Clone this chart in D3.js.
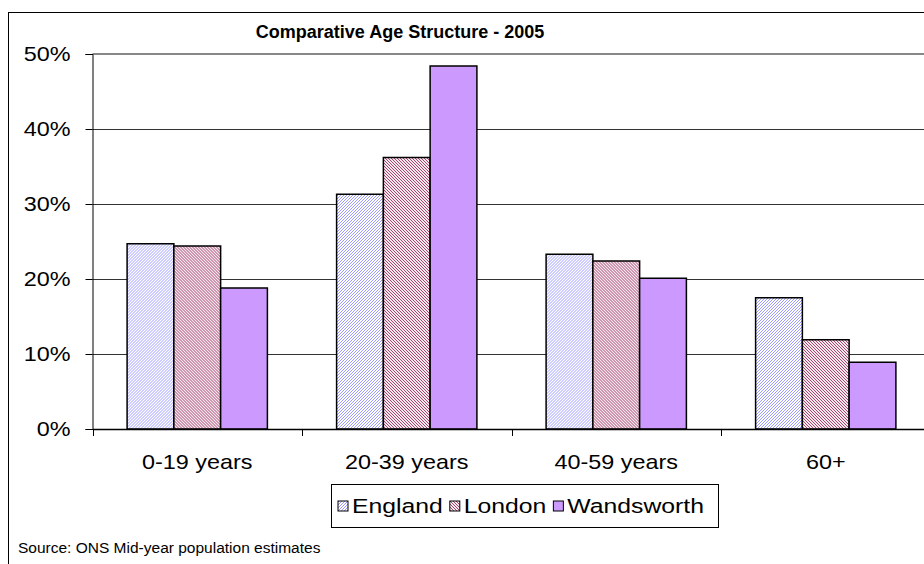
<!DOCTYPE html>
<html>
<head>
<meta charset="utf-8">
<script src="https://cdn.jsdelivr.net/npm/d3@7"></script>
<style>
body { margin: 0; background: #fff; }
svg { display: block; font-family: "Liberation Sans", Arial, sans-serif; }
</style>
</head>
<body>
<div id="chart"></div>
<script>
var categories = ["0-19 years", "20-39 years", "40-59 years", "60+"];
var series = ["England", "London", "Wandsworth"];
var england = [24.7, 31.3, 23.3, 17.5];
var london = [24.4, 36.2, 22.4, 11.9];
var wandsworth = [18.8, 48.4, 20.1, 8.9];
var yTicks = [0, 10, 20, 30, 40, 50];

var w = 924, h = 564;
var sx = 1.17; // the labels in the original look a bit stretched sideways
var svg = d3.select("#chart").append("svg")
    .attr("width", w)
    .attr("height", h);

var defs = svg.append("defs");
function hatch(id, bg, fg, dir) {
  var p = defs.append("pattern")
      .attr("id", id)
      .attr("patternUnits", "userSpaceOnUse")
      .attr("width", 3)
      .attr("height", 3);
  p.append("rect").attr("width", 3).attr("height", 3).attr("fill", bg);
  p.append("path")
      .attr("d", dir > 0 ? "M-1,1 l2,-2 M0,3 l3,-3 M2,4 l2,-2" : "M-1,2 l2,2 M0,0 l3,3 M2,-1 l2,2")
      .attr("stroke", fg)
      .attr("stroke-width", 1);
}
hatch("pEng", "#ffffff", "#9a9aff", 1);
hatch("pLon", "#f6e6ee", "#a3486f", -1);
var fills = ["url(#pEng)", "url(#pLon)", "#cc99ff"];

// outer frame (runs off the right and bottom of the picture)
svg.append("rect")
    .attr("x", 8.5).attr("y", 12.5)
    .attr("width", 940).attr("height", 580)
    .attr("fill", "#fff")
    .attr("stroke", "#000");

var margin = {left: 92.5, top: 54, bottom: 429};
var x0 = d3.scaleBand()
    .domain(categories)
    .range([margin.left, margin.left + 4 * 209.5]);
var x1 = d3.scaleBand()
    .domain(series)
    .range([0, x0.bandwidth()])
    .paddingOuter(0.74)
    .paddingInner(0);
var y = d3.scaleLinear()
    .domain([0, 50])
    .range([margin.bottom, margin.top]);

// gridlines
svg.append("g").selectAll("line")
    .data(yTicks.slice(1, 5))
    .enter().append("line")
    .attr("x1", margin.left).attr("x2", w)
    .attr("y1", function(d) { return Math.round(y(d)) + 0.5; })
    .attr("y2", function(d) { return Math.round(y(d)) + 0.5; })
    .attr("stroke", "#333")
    .attr("stroke-width", 1);
svg.append("line")
    .attr("x1", margin.left).attr("x2", w)
    .attr("y1", margin.top).attr("y2", margin.top)
    .attr("stroke", "#888")
    .attr("stroke-width", 2);

// bars
var data = categories.map(function(c, i) {
  return {cat: c, vals: [england[i], london[i], wandsworth[i]]};
});
var groups = svg.append("g").selectAll("g")
    .data(data)
    .enter().append("g")
    .attr("transform", function(d) { return "translate(" + x0(d.cat) + ",0)"; });
groups.selectAll("rect")
    .data(function(d) { return d.vals; })
    .enter().append("rect")
    .attr("x", function(d, i) { return x1(series[i]); })
    .attr("y", function(d) { return y(d); })
    .attr("width", x1.bandwidth())
    .attr("height", function(d) { return y(0) - y(d); })
    .attr("fill", function(d, i) { return fills[i]; })
    .attr("stroke", "#000")
    .attr("stroke-width", 1.5);

// y axis
var yAxis = d3.axisLeft(y)
    .tickValues(yTicks)
    .tickSize(7)
    .tickFormat(function(d) { return d + "%"; });
var ya = svg.append("g")
    .attr("transform", "translate(" + margin.left + ",0)")
    .call(yAxis);
ya.select(".domain").attr("stroke", "#000");
ya.selectAll("text")
    .attr("x", -22 / sx)
    .attr("transform", "scale(" + sx + ",1)")
    .attr("font-size", 20)
    .attr("font-family", "Liberation Sans, Arial, sans-serif")
    .attr("fill", "#000");

// x axis
var xAxis = d3.axisBottom(x0).tickSize(0).tickSizeOuter(0);
var xa = svg.append("g")
    .attr("transform", "translate(0," + margin.bottom + ")")
    .call(xAxis);
xa.select(".domain").attr("stroke", "#000").attr("stroke-width", 1.5);
xa.selectAll("text")
    .attr("y", 26)
    .attr("transform", "scale(" + sx + ",1)")
    .attr("font-size", 20)
    .attr("font-family", "Liberation Sans, Arial, sans-serif")
    .attr("fill", "#000");
xa.selectAll(".tk")
    .data(categories)
    .enter().append("line")
    .attr("x1", function(d) { return Math.round(x0(d)) + 0.5; })
    .attr("x2", function(d) { return Math.round(x0(d)) + 0.5; })
    .attr("y1", 0).attr("y2", 7)
    .attr("stroke", "#000");

// title
svg.append("text")
    .attr("x", 400).attr("y", 38)
    .attr("text-anchor", "middle")
    .attr("font-size", 18)
    .attr("font-weight", "bold")
    .text("Comparative Age Structure - 2005");

// legend
var ls = 1.27;
var lg = svg.append("g");
lg.append("rect")
    .attr("x", 331.5).attr("y", 484.5)
    .attr("width", 387).attr("height", 43)
    .attr("fill", "#fff")
    .attr("stroke", "#000");
var lx = 338;
series.forEach(function(s, i) {
  lg.append("rect")
      .attr("x", lx).attr("y", 501)
      .attr("width", 10).attr("height", 10)
      .attr("fill", fills[i])
      .attr("stroke", "#000");
  var t = lg.append("text")
      .attr("x", (lx + 14) / ls).attr("y", 513)
      .attr("font-size", 19.5)
      .attr("transform", "scale(" + ls + ",1)")
      .text(s);
  lx += 14 + t.node().getComputedTextLength() * ls + 7;
});

// source note
svg.append("text")
    .attr("x", 18).attr("y", 553)
    .attr("font-size", 15.5)
    .text("Source: ONS Mid-year population estimates");
</script>
</body>
</html>
